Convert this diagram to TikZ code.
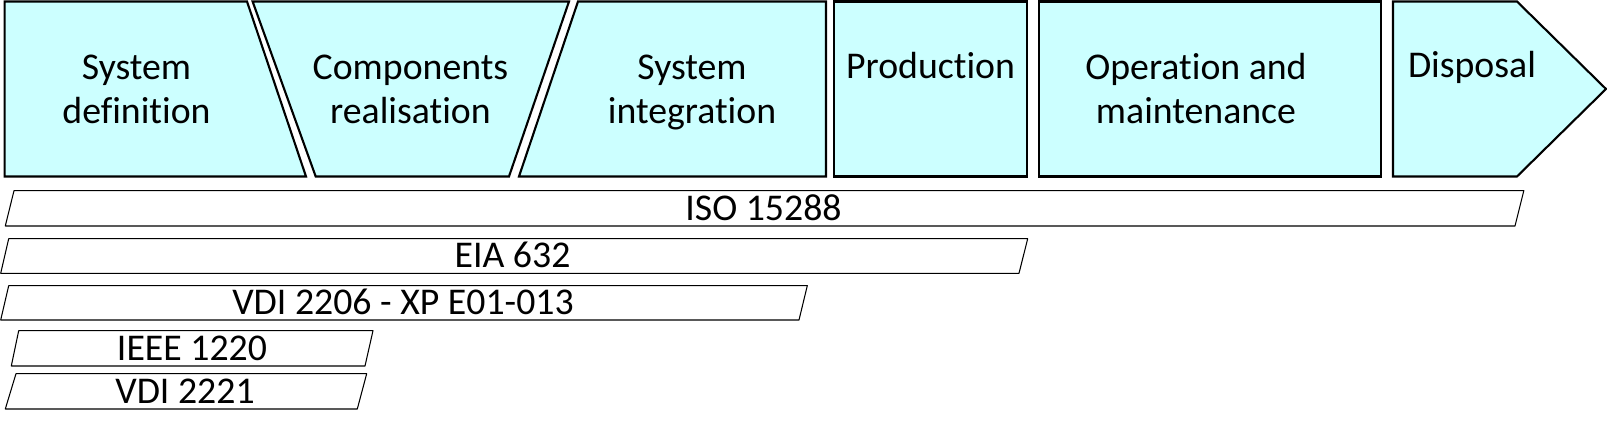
\documentclass[tikz,border=0pt]{standalone}
\usepackage{fontspec}
\setmainfont{Carlito}[Ligatures=NoCommon]
\usepackage{tkz-euclide}
\definecolor{phasecyan}{RGB}{204,255,255}
\tikzset{
  phase/.style={fill=phasecyan, draw=black, line width=0.6pt, line join=miter},
  normbar/.style={fill=white, draw=black, line width=0.3pt},
  lbl/.style={anchor=base, inner sep=0pt, align=center, font=\fontsize{10.75}{12.5}\selectfont},
}

\begin{document}
\begin{tikzpicture}
\useasboundingbox (0,0) rectangle (16.07,4.37);
% life cycle phases
\tkzDefPoints{0.046/4.355/A1, 2.47/4.355/B1, 3.06/2.605/C1, 0.046/2.605/D1}
\tkzDefPoints{2.526/4.355/A2, 5.69/4.355/B2, 5.09/2.605/C2, 3.157/2.605/D2}
\tkzDefPoints{5.78/4.355/A3, 8.26/4.355/B3, 8.26/2.605/C3, 5.19/2.605/D3}
\tkzDefPoints{8.34/4.355/A4, 10.27/4.355/B4, 10.27/2.605/C4, 8.34/2.605/D4}
\tkzDefPoints{10.39/4.355/A5, 13.81/4.355/B5, 13.81/2.605/C5, 10.39/2.605/D5}
\tkzDefPoints{13.93/4.355/A6, 15.17/4.355/B6, 16.06/3.48/T6, 15.17/2.605/C6, 13.93/2.605/D6}
\tkzDrawPolygon[phase](A1,B1,C1,D1)
\tkzDrawPolygon[phase](A2,B2,C2,D2)
\tkzDrawPolygon[phase](A3,B3,C3,D3)
\tkzDrawPolygon[phase](A4,B4,C4,D4)
\tkzDrawPolygon[phase](A5,B5,C5,D5)
\tkzDrawPolygon[phase](A6,B6,T6,C6,D6)
\node[lbl] (sysdef) at (1.365,3.137) {System\\definition};
\node[lbl] (comp) at (4.105,3.137) {Components\\realisation};
\node[lbl] (sysint) at (6.92,3.137) {System\\integration};
\node[lbl] (prod) at (9.306,3.58) {Production};
\node[lbl] (oper) at (11.96,3.137) {Operation and\\maintenance};
\node[lbl] (disp) at (14.72,3.597) {Disposal};
% standards
\tkzDefPoints{0.053/2.11/P1, 15.15/2.11/Q1, 15.238/2.463/R1, 0.14/2.463/S1}
\tkzDefPoints{0.007/1.637/P2, 10.19/1.637/Q2, 10.277/1.983/R2, 0.087/1.983/S2}
\tkzDefPoints{0.007/1.17/P3, 7.99/1.17/Q3, 8.073/1.513/R3, 0.087/1.513/S3}
\tkzDefPoints{0.113/0.71/P4, 3.65/0.71/Q4, 3.73/1.063/R4, 0.187/1.063/S4}
\tkzDefPoints{0.053/0.28/P5, 3.573/0.28/Q5, 3.667/0.633/R5, 0.16/0.633/S5}
\tkzDrawPolygon[normbar](P1,Q1,R1,S1)
\tkzDrawPolygon[normbar](P2,Q2,R2,S2)
\tkzDrawPolygon[normbar](P3,Q3,R3,S3)
\tkzDrawPolygon[normbar](P4,Q4,R4,S4)
\tkzDrawPolygon[normbar](P5,Q5,R5,S5)
\node[lbl] (iso) at (7.635,2.163) {ISO 15288};
\node[lbl] (eia) at (5.125,1.69) {EIA 632};
\node[lbl] (vdia) at (4.03,1.223) {VDI 2206 - XP E01-013};
\node[lbl] (ieee) at (1.92,0.768) {IEEE 1220};
\node[lbl] (vdib) at (1.85,0.338) {VDI 2221};
\end{tikzpicture}
\end{document}
